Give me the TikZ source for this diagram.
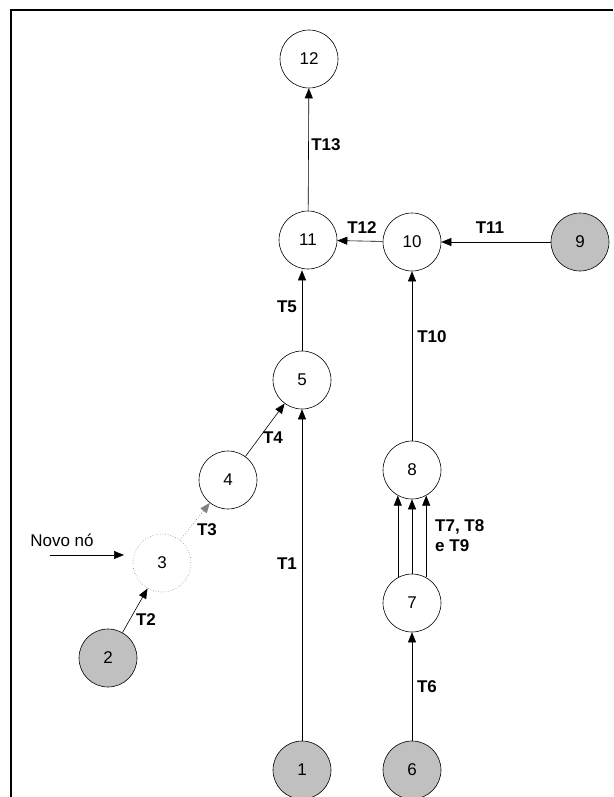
\documentclass[tikz,border=0pt]{standalone}
\usepackage{fontspec}
\setmainfont{Liberation Sans}
\usetikzlibrary{arrows.meta}
\definecolor{cinzento}{HTML}{C0C0C0}
\tikzset{
  no/.style={circle,draw,line width=0.6pt,minimum size=58pt,inner sep=0pt,font=\fontsize{17}{20}\selectfont},
  nofonte/.style={no,fill=cinzento},
  nonovo/.style={no,draw=gray,dotted},
  rotulo/.style={font=\fontsize{17}{20}\selectfont\bfseries},
  seta/.style={line width=0.6pt,-{Triangle[length=10pt,width=8pt]}}
}
\begin{document}
\begin{tikzpicture}[x=1pt,y=-1pt]
                \useasboundingbox (0,0) rectangle (613,797);
                \draw[line width=2.5pt] (11,797) -- (11,10) -- (613,10);

                \node[no] (n12) at (309,59) {12};
                \node[no] (n11) at (308,240) {11};
                \node[no] (n10) at (412,242) {10};
                \node[nofonte] (n9) at (580,242) {9};
                \node[no] (n5) at (302,380) {5};
                \node[no] (n4) at (228,480) {4};
                \node[nonovo] (n3) at (162,563) {3};
                \node[nofonte] (n2) at (108,658) {2};
                \node[no] (n8) at (412,470) {8};
                \node[no] (n7) at (412,603) {7};
                \node[nofonte] (n1) at (302,770) {1};
                \node[nofonte] (n6) at (412,770) {6};

                \draw[seta] (n11) -- (n12);
                \draw[seta] (n10) -- (n11);
                \draw[seta] (n9) -- (n10);
                \draw[seta] (n5.north) -- ([yshift=-1pt]n5.north |- n11.south);
                \draw[seta] (n8) -- (n10);
                \draw[seta] (n4) -- (n5);
                \draw[seta,dotted,draw=gray] (n3) -- (n4);
                \draw[seta] (n2) -- (n3);
                \draw[seta] (n1) -- (n5);
                \draw[seta] (n7.119) -- (n8.241);
                \draw[seta] (n7) -- (n8);
                \draw[seta] (n7.61) -- (n8.299);
                \draw[seta] (n6) -- (n7);

                \node[] (novo) at (62,540) {\fontsize{17}{20}\selectfont Novo nó};
                \coordinate (novoa) at (50,555);
                \coordinate (novob) at (124,555);
                \draw[seta] (novoa) -- (novob);

                \node[rotulo] (t13) at (326,145) {T13};
                \node[rotulo] (t12) at (362,228) {T12};
                \node[rotulo] (t11) at (490,228) {T11};
                \node[rotulo] (t5) at (287,307) {T5};
                \node[rotulo] (t10) at (432,337) {T10};
                \node[rotulo] (t4) at (273,438) {T4};
                \node[rotulo] (t3) at (207,530) {T3};
                \node[rotulo] (t1) at (287,564) {T1};
                \node[rotulo] (t2) at (146,620) {T2};
                \node[rotulo,align=left,anchor=west,inner sep=0pt] (t789) at (435,536) {T7, T8\\e T9};
                \node[rotulo] (t6) at (427,687) {T6};
            \end{tikzpicture}
\end{document}
